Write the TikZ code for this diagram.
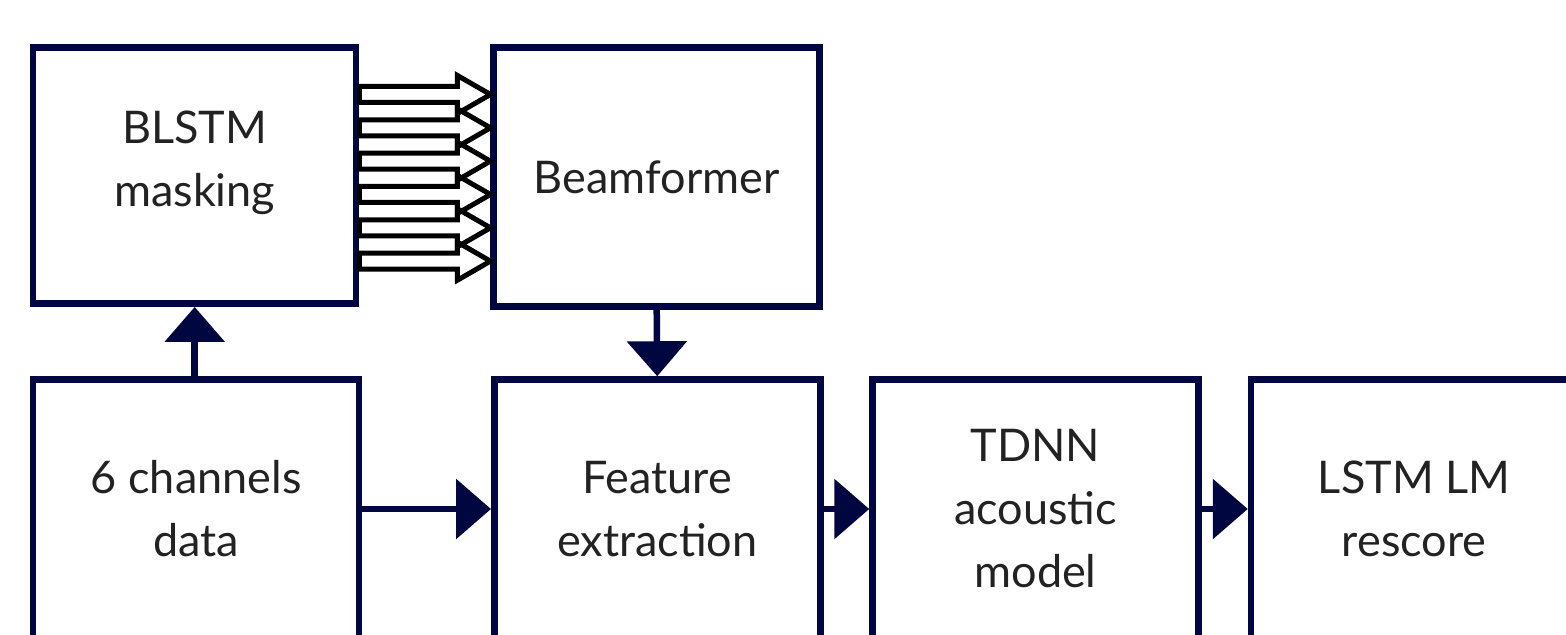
\documentclass[tikz,border=0pt]{standalone}
\usepackage{fontspec}
\setmainfont{Lato}
\usetikzlibrary{calc,arrows.meta}
\definecolor{navy}{RGB}{0,6,64}
\definecolor{ink}{RGB}{34,34,34}

\tikzset{
  box/.style={draw=navy, line width=3.25pt, minimum width=163pt, minimum height=129.5pt,
    align=center, text=ink, font=\fontsize{22.5}{31.5}\selectfont},
  txt/.style={align=center, text=ink, font=\fontsize{22.5}{31.5}\selectfont},
  link/.style={draw=navy, line width=3.25pt, -{Triangle[length=17.5pt,width=29.5pt]}},
  hollow/.style={draw=black, line width=2.5pt, line join=miter},
}

\begin{document}
\begin{tikzpicture}[x=0.5pt,y=-0.5pt]
\useasboundingbox (0,0) rectangle (1566,635);
\clip (0,0) rectangle (1566,635);
% top row
\node[box, minimum width=161.5pt, minimum height=128.2pt,
  label={[name=blstmtxt, txt, yshift=6.5pt]center:BLSTM\\masking}] (blstm) at (194.7,175.5) {};
\node[box, minimum height=129.7pt] (beam) at (656.7,177) {Beamformer};
% bottom row
\node[box] (sixch) at (196.2,509) {6 channels\\data};
\node[box] (feat) at (657.25,509) {Feature\\extraction};
\node[box] (tdnn) at (1035.5,509) {TDNN\\acoustic\\model};
\node[box] (lstm) at (1414,509) {LSTM LM\\rescore};
% masks to beamformer
\foreach \k in {0,...,5}
{       \coordinate (s) at (blstm.east |- 0,94.5+33.33*\k);
        \coordinate (t) at (beam.west |- 0,94.5+33.33*\k);
        \draw[hollow] ($(s)+(0,-8)$) -- ($(t)+(-33,-8)$) -- ($(t)+(-33,-19)$) -- (t)
          -- ($(t)+(-33,19)$) -- ($(t)+(-33,8)$) -- ($(s)+(0,8)$) -- cycle;
}
% data flow
\draw[link] (blstm.south |- sixch.north) -- (blstm.south);
\draw[link] (beam.south) -- (feat.north);
\draw[link] (sixch) -- (feat);
\draw[link] (feat) -- (tdnn);
\draw[link] (tdnn) -- (lstm);
\end{tikzpicture}
\end{document}
